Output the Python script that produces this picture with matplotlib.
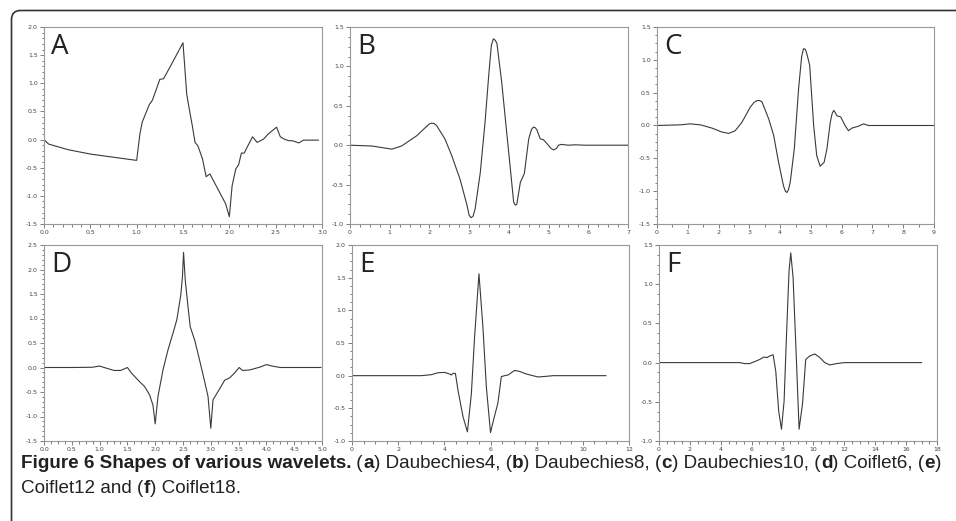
import matplotlib
matplotlib.use("Agg")
import matplotlib.pyplot as plt
from matplotlib.ticker import MultipleLocator, FormatStrFormatter
from matplotlib.path import Path
from matplotlib.patches import PathPatch

# wavelet shapes, values
a_x = [0.0, 0.05, 0.26, 0.51, 1.0, 1.035, 1.06, 1.136, 1.17, 1.25, 1.29, 1.37, 1.5,
       1.54, 1.57, 1.60, 1.63, 1.66, 1.71, 1.75, 1.79, 1.87, 1.96, 2.0, 2.03, 2.07,
       2.10, 2.13, 2.16, 2.25, 2.30, 2.37, 2.42, 2.51, 2.55, 2.59, 2.64, 2.68, 2.75,
       2.80, 2.87, 2.96]
a_y = [0.0, -0.08, -0.18, -0.26, -0.37, 0.10, 0.31, 0.62, 0.70, 1.07, 1.08, 1.32, 1.72,
       0.81, 0.52, 0.25, -0.05, -0.11, -0.34, -0.66, -0.61, -0.86, -1.14, -1.37, -0.82, -0.52,
       -0.45, -0.24, -0.24, 0.05, -0.05, 0.01, 0.10, 0.22, 0.05, 0.01, -0.02, -0.02, -0.06,
       -0.01, -0.01, -0.01]

b_x = [0.0, 0.55, 1.05, 1.30, 1.68, 1.89, 2.0, 2.06, 2.12, 2.18, 2.39, 2.56, 2.77, 2.94,
       3.0, 3.05, 3.10, 3.15, 3.28, 3.40, 3.50, 3.56, 3.61, 3.66, 3.70, 3.82, 3.92, 4.03,
       4.12, 4.16, 4.20, 4.29, 4.39, 4.50, 4.57, 4.62, 4.67, 4.71, 4.79, 4.87, 4.96, 5.06,
       5.13, 5.20, 5.25, 5.32, 5.50, 5.67, 5.92, 7.0]
b_y = [0.0, -0.01, -0.05, -0.01, 0.12, 0.22, 0.27, 0.28, 0.275, 0.25, 0.08, -0.13, -0.43,
       -0.75, -0.89, -0.92, -0.90, -0.81, -0.35, 0.29, 0.93, 1.27, 1.35, 1.33, 1.29, 0.80,
       0.29, -0.26, -0.72, -0.76, -0.75, -0.47, -0.36, 0.08, 0.20, 0.23, 0.22, 0.19, 0.08,
       0.07, 0.02, -0.04, -0.06, -0.04, 0.0, 0.01, 0.0, 0.005, 0.0, 0.0]

c_x = [0.0, 0.76, 1.08, 1.41, 1.79, 2.11, 2.33, 2.54, 2.76, 3.03, 3.15, 3.25, 3.33, 3.41,
       3.63, 3.79, 3.95, 4.11, 4.17, 4.22, 4.27, 4.33, 4.46, 4.60, 4.70, 4.76, 4.82, 4.87,
       4.96, 5.09, 5.19, 5.30, 5.43, 5.52, 5.63, 5.69, 5.74, 5.79, 5.84, 5.97, 6.11, 6.22,
       6.33, 6.55, 6.71, 6.87, 7.14, 9.0]
c_y = [0.0, 0.01, 0.025, 0.01, -0.04, -0.10, -0.12, -0.08, 0.05, 0.28, 0.35, 0.38, 0.38,
       0.36, 0.10, -0.15, -0.56, -0.92, -1.0, -1.02, -0.98, -0.86, -0.36, 0.56, 1.05, 1.17,
       1.16, 1.09, 0.92, 0.0, -0.46, -0.62, -0.56, -0.36, 0.05, 0.18, 0.23, 0.20, 0.15, 0.13,
       0.0, -0.08, -0.04, -0.01, 0.025, 0.0, 0.0, 0.0]

d_x = [0.0, 0.51, 0.87, 1.0, 1.11, 1.26, 1.38, 1.50, 1.57, 1.72, 1.81, 1.90, 1.96, 2.0,
       2.05, 2.14, 2.23, 2.32, 2.39, 2.46, 2.49, 2.51, 2.54, 2.59, 2.63, 2.71, 2.79, 2.89,
       2.95, 3.0, 3.04, 3.13, 3.25, 3.34, 3.43, 3.51, 3.57, 3.70, 3.89, 4.0, 4.10, 4.25, 4.98]
d_y = [0.0, 0.0, 0.005, 0.03, -0.01, -0.06, -0.06, 0.0, -0.11, -0.29, -0.39, -0.56, -0.77,
       -1.15, -0.59, -0.05, 0.36, 0.70, 0.98, 1.48, 1.85, 2.35, 1.79, 1.24, 0.83, 0.56, 0.19,
       -0.29, -0.59, -1.24, -0.66, -0.49, -0.26, -0.21, -0.11, 0.0, -0.06, -0.05, 0.01, 0.06,
       0.03, 0.0, 0.0]

e_x = [0.0, 3.0, 3.44, 3.73, 4.01, 4.23, 4.30, 4.38, 4.48, 4.59, 4.81, 5.0, 5.17, 5.31,
       5.50, 5.67, 5.82, 6.0, 6.13, 6.32, 6.47, 6.61, 6.76, 7.04, 7.26, 7.55, 8.06, 8.42,
       8.71, 11.0]
e_y = [0.0, 0.0, 0.015, 0.045, 0.05, 0.025, 0.01, 0.035, 0.035, -0.22, -0.63, -0.86, -0.28,
       0.59, 1.56, 0.75, -0.17, -0.87, -0.68, -0.42, -0.015, 0.0, 0.01, 0.08, 0.065, 0.025,
       -0.02, -0.01, 0.0, 0.0]

f_x = [0.0, 5.23, 5.55, 5.87, 6.2, 6.52, 6.78, 7.0, 7.17, 7.39, 7.56, 7.75, 7.93, 8.1,
       8.25, 8.42, 8.53, 8.68, 8.9, 9.07, 9.29, 9.5, 9.76, 10.09, 10.41, 10.73, 11.06,
       11.49, 12.03, 17.0]
f_y = [0.0, 0.0, -0.013, -0.013, 0.013, 0.04, 0.07, 0.065, 0.085, 0.10, -0.11, -0.62,
       -0.85, -0.49, 0.32, 1.17, 1.40, 1.09, 0.02, -0.85, -0.53, 0.04, 0.085, 0.11, 0.065,
       0.0, -0.03, -0.013, 0.0, 0.0]

letters = ["A", "B", "C", "D", "E", "F"]

W, H = 956, 521
fig = plt.figure(figsize=(W / 100, H / 100), dpi=100)

# overlay in pixel units for the frame and the caption
bg = fig.add_axes([0, 0, 1, 1])
bg.set_xlim(0, W)
bg.set_ylim(H, 0)
bg.axis("off")

r = 9
verts = [(11.5, H + 5), (11.5, 10.5 + r), (11.5, 10.5), (11.5 + r, 10.5), (W + 5, 10.5)]
codes = [Path.MOVETO, Path.LINETO, Path.CURVE3, Path.CURVE3, Path.LINETO]
bg.add_patch(PathPatch(Path(verts, codes), fill=False, edgecolor="#333333", lw=1.2))

# panel boxes in pixels: left, top, right, bottom
boxes = [(44, 27, 322, 224), (350, 27, 628, 224), (657, 27, 934, 224),
         (44, 245, 322, 441), (352, 245, 629, 441), (659, 245, 937, 441)]
curves = [(a_x, a_y), (b_x, b_y), (c_x, c_y), (d_x, d_y), (e_x, e_y), (f_x, f_y)]
# xlim, ylim, x major, x minor, y major, y minor, x format
scales = [((0, 3), (-1.5, 2.0), 0.5, 0.1, 0.5, 0.1, "%.1f"),
          ((0, 7), (-1.0, 1.5), 1, 0.25, 0.5, 0.125, "%d"),
          ((0, 9), (-1.5, 1.5), 1, 0.5, 0.5, 0.125, "%d"),
          ((0, 5), (-1.5, 2.5), 0.5, 0.125, 0.5, 0.1, "%.1f"),
          ((0, 12), (-1.0, 2.0), 2, 0.5, 0.5, 0.125, "%d"),
          ((0, 18), (-1.0, 1.5), 2, 0.5, 0.5, 0.125, "%d")]

for (l, t, rr, b), (xs, ys), sc, let in zip(boxes, curves, scales, letters):
    ax = fig.add_axes([l / W, 1 - b / H, (rr - l) / W, (b - t) / H])
    ax.plot(xs, ys, color="#3a3a3a", lw=0.8)
    xlim, ylim, xmaj, xmin, ymaj, ymin, xfmt = sc
    ax.set_xlim(*xlim)
    ax.set_ylim(*ylim)
    ax.xaxis.set_major_locator(MultipleLocator(xmaj))
    ax.xaxis.set_minor_locator(MultipleLocator(xmin))
    ax.yaxis.set_major_locator(MultipleLocator(ymaj))
    ax.yaxis.set_minor_locator(MultipleLocator(ymin))
    ax.xaxis.set_major_formatter(FormatStrFormatter(xfmt))
    ax.yaxis.set_major_formatter(FormatStrFormatter("%.1f"))
    for s in ax.spines.values():
        s.set_color("#999999")
        s.set_linewidth(0.8)
    ax.tick_params(which="both", direction="out", colors="#666666", width=0.6,
                   labelsize=4.5, pad=1.5, labelcolor="#444444")
    ax.tick_params(which="major", length=3)
    ax.tick_params(which="minor", length=1.8)
    ax.text(0.025, 0.97, let, transform=ax.transAxes, ha="left", va="top",
            fontsize=20, family="Open Sans", color="#222222")

# caption, placed piece by piece so that bold and regular runs sit in one line
cap_font = ["Liberation Sans Narrow", "Liberation Sans"]
line1 = [("Figure 6 Shapes of various wavelets.", "bold"), (" (", "normal"), ("a", "bold"),
         (") Daubechies4, (", "normal"), ("b", "bold"), (") Daubechies8, (", "normal"),
         ("c", "bold"), (") Daubechies10, (", "normal"), ("d", "bold"),
         (") Coiflet6, (", "normal"), ("e", "bold"), (")", "normal")]
line2 = [("Coiflet12 and (", "normal"), ("f", "bold"), (") Coiflet18.", "normal")]

renderer = fig.canvas.get_renderer()


def place(pieces, x0, y, size):
    x = x0
    for txt, wt in pieces:
        t = bg.text(x, y, txt, fontsize=size, fontweight=wt, family=cap_font,
                    color="#222222", ha="left", va="baseline")
        x += t.get_window_extent(renderer=renderer).width
    return x - x0


size = 11.0
probe = place(line1, 0, -100, size)
for t in list(bg.texts):
    t.remove()
size = size * 925 / probe
place(line1, 21, 468, size)
place(line2, 21, 493, size)

fig.savefig("out.png", dpi=100)
